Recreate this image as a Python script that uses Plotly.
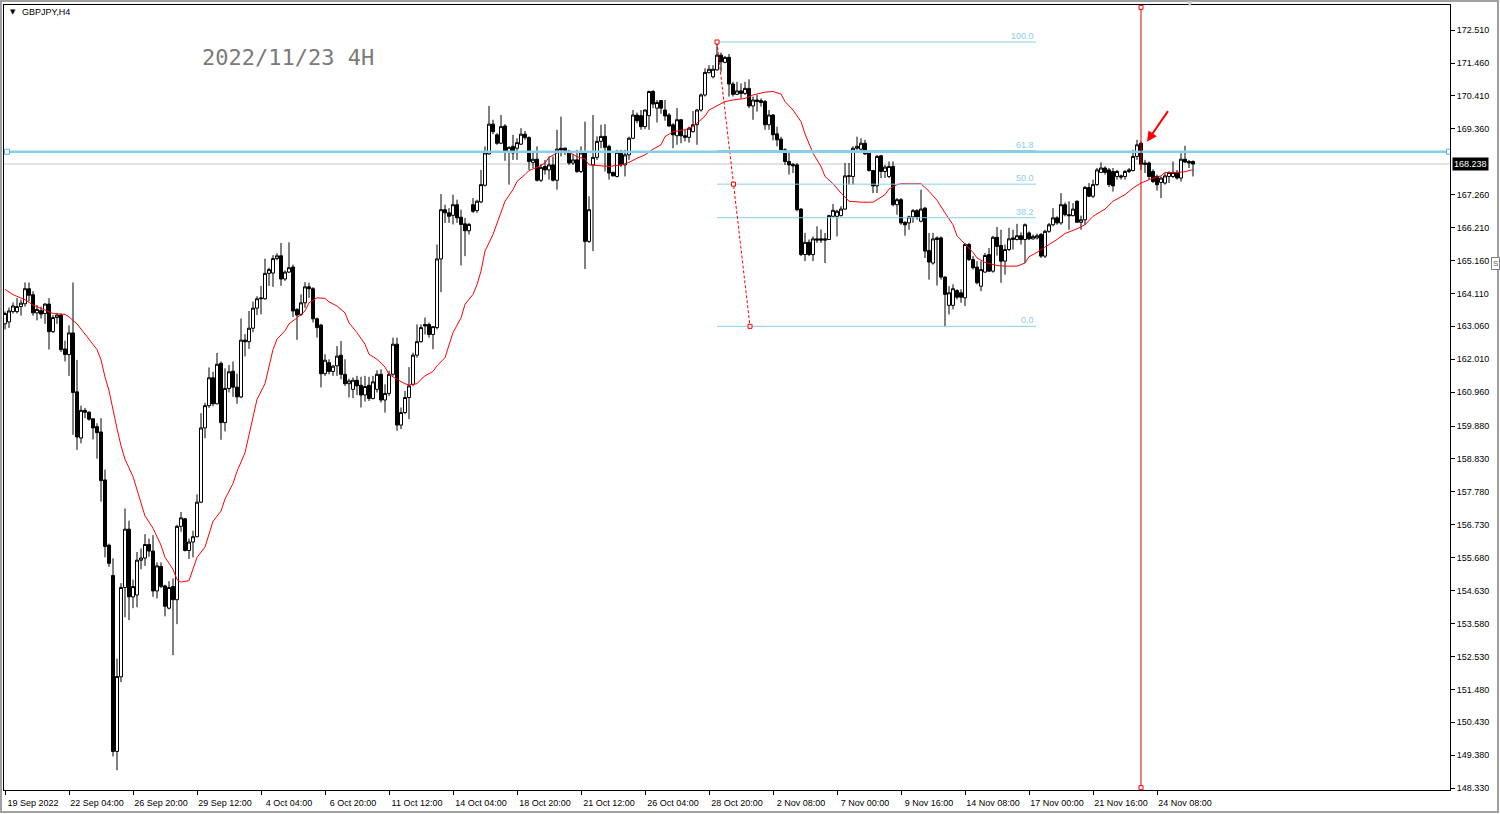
import pandas as pd
import plotly.graph_objects as go

# ---------------- data ----------------
# 4H bars (broker time) Mon-Fri, plus one Sunday bar after the DST switch
bar_times = [t for t in pd.date_range("2022-09-19 12:00", "2022-11-25 20:00", freq="4h") if t.dayofweek < 5]
bar_times.append(pd.Timestamp("2022-10-30 20:00"))
bar_times = sorted(bar_times)
dates = [t.strftime("%Y-%m-%d %H:%M") for t in bar_times]

opens = [
    163.14, 163.20, 163.53, 163.53, 163.69, 163.78, 164.26, 164.07, 163.49, 163.56,
    163.47, 163.77, 162.89, 163.34, 163.42, 162.34, 162.16, 162.85, 160.97, 159.50,
    160.38, 160.32, 160.11, 159.86, 159.69, 158.16, 156.08, 155.11, 149.50, 151.88,
    154.73, 156.59, 154.43, 154.49, 155.60, 155.67, 156.10, 155.89, 154.62, 155.40,
    154.78, 154.07, 154.76, 154.34, 156.68, 156.92, 155.91, 156.18, 156.35, 157.45,
    159.82, 160.53, 161.42, 160.59, 161.88, 159.99, 161.08, 161.63, 161.12, 160.81,
    162.62, 162.57, 163.00, 163.64, 163.94, 163.94, 164.75, 164.76, 165.22, 165.31,
    164.57, 164.79, 164.95, 163.60, 163.44, 163.81, 164.32, 164.26, 163.30, 163.10,
    161.55, 161.90, 161.62, 161.80, 162.14, 161.53, 161.23, 161.05, 161.34, 161.18,
    160.87, 161.18, 160.76, 161.05, 161.53, 160.71, 160.92, 161.53, 162.49, 159.91,
    160.31, 160.79, 161.21, 162.14, 162.57, 163.12, 163.12, 162.80, 163.02, 165.21,
    166.78, 166.68, 166.60, 166.94, 166.54, 166.33, 166.11, 166.94, 166.75, 167.03,
    167.56, 168.56, 169.51, 169.17, 168.90, 169.45, 168.61, 168.80, 168.74, 168.87,
    169.19, 169.08, 168.29, 168.39, 167.72, 168.16, 168.05, 168.21, 167.72, 168.74,
    168.74, 168.64, 168.27, 168.37, 168.00, 168.59, 165.77, 168.21, 168.45, 168.96,
    169.12, 168.80, 167.97, 167.84, 168.64, 168.21, 168.53, 169.06, 169.80, 169.78,
    169.43, 169.78, 170.55, 170.02, 170.26, 169.96, 169.80, 169.49, 169.14, 169.65,
    169.14, 169.09, 169.27, 169.49, 169.96, 170.44, 171.15, 171.02, 171.24, 171.71,
    171.48, 171.64, 170.79, 170.46, 170.57, 170.49, 170.65, 170.09, 170.28, 170.26,
    170.23, 169.49, 169.80, 169.20, 169.03, 168.69, 168.32, 168.23, 168.21, 166.80,
    165.35, 165.74, 165.35, 165.85, 165.85, 165.85, 165.83, 166.57, 166.57, 166.59,
    166.80, 167.84, 167.84, 168.74, 168.71, 168.90, 168.61, 168.03, 167.54, 168.50,
    168.00, 167.84, 168.16, 166.94, 167.10, 166.38, 166.36, 166.55, 166.75, 166.41,
    166.83, 165.48, 165.08, 165.88, 165.88, 164.63, 163.73, 163.73, 164.20, 164.13,
    163.97, 165.67, 165.19, 164.95, 164.34, 164.79, 165.35, 164.82, 165.90, 165.64,
    165.14, 165.51, 165.83, 165.83, 165.95, 165.83, 166.04, 165.85, 165.88, 165.99,
    165.30, 166.09, 166.30, 166.52, 166.36, 166.94, 166.62, 166.59, 167.05, 166.38,
    166.46, 167.49, 167.21, 167.58, 167.97, 168.11, 168.05, 168.00, 167.84, 167.86,
    167.84, 168.00, 168.03, 168.48, 168.90, 168.27, 168.27, 168.00, 167.84, 167.65,
    167.63, 167.84, 167.84, 167.97, 167.79, 168.39, 168.32, 168.32,
]
highs = [
    163.53, 163.66, 163.82, 163.96, 163.91, 164.46, 164.46, 164.18, 163.74, 163.69,
    163.80, 163.96, 163.42, 163.49, 163.47, 162.60, 163.09, 164.46, 161.99, 160.53,
    160.46, 160.35, 160.13, 159.97, 160.13, 158.49, 156.13, 155.66, 152.46, 154.87,
    157.25, 156.86, 154.98, 155.86, 155.97, 156.43, 156.29, 156.40, 155.53, 155.53,
    154.82, 154.93, 155.02, 156.73, 157.14, 156.95, 156.29, 156.54, 157.70, 160.29,
    160.62, 161.75, 161.61, 162.21, 161.94, 161.72, 161.83, 161.94, 161.55, 163.31,
    162.81, 163.55, 163.85, 164.02, 164.35, 165.22, 164.93, 165.33, 165.39, 165.72,
    164.84, 165.74, 165.03, 163.64, 164.08, 164.47, 164.45, 164.31, 163.34, 163.14,
    162.17, 162.01, 161.83, 162.43, 162.59, 162.01, 161.39, 161.43, 161.48, 161.45,
    161.48, 161.45, 161.48, 161.66, 161.69, 161.21, 161.64, 162.70, 162.70, 160.47,
    161.00, 161.76, 162.22, 163.12, 163.12, 163.34, 163.18, 163.07, 165.67, 167.28,
    166.94, 166.83, 167.26, 167.10, 166.78, 166.52, 166.36, 167.15, 167.10, 168.05,
    168.80, 170.09, 169.65, 169.22, 169.80, 169.51, 168.80, 169.17, 169.06, 169.38,
    169.29, 169.12, 168.64, 168.80, 168.23, 168.37, 168.48, 168.48, 169.33, 169.75,
    168.77, 168.69, 168.55, 168.69, 168.80, 169.59, 167.21, 169.80, 169.12, 169.49,
    169.51, 168.85, 168.00, 168.69, 168.69, 168.69, 169.11, 169.96, 169.88, 169.96,
    169.98, 170.58, 170.60, 170.28, 170.28, 170.28, 169.86, 169.54, 170.02, 169.67,
    169.33, 169.43, 169.93, 169.99, 170.49, 171.29, 171.39, 171.39, 172.13, 171.79,
    171.68, 171.75, 170.86, 170.86, 170.81, 170.86, 170.94, 170.39, 170.44, 170.33,
    170.28, 169.96, 169.83, 169.43, 169.11, 168.74, 168.61, 168.27, 168.27, 166.83,
    166.04, 165.83, 165.93, 166.25, 166.15, 166.04, 166.62, 166.96, 166.78, 166.89,
    168.27, 168.27, 168.80, 169.11, 169.06, 169.01, 168.64, 168.05, 168.53, 168.53,
    168.21, 168.32, 168.32, 167.15, 167.15, 166.41, 166.59, 166.80, 166.80, 167.42,
    166.87, 166.04, 166.04, 165.93, 165.93, 164.66, 164.34, 164.40, 164.24, 164.24,
    165.72, 165.72, 165.30, 165.14, 165.14, 165.40, 165.56, 165.95, 166.23, 166.14,
    165.67, 166.20, 166.14, 166.33, 166.06, 166.34, 166.09, 165.99, 166.02, 166.04,
    166.14, 166.36, 166.83, 166.57, 167.31, 167.01, 167.05, 166.99, 167.08, 166.59,
    167.54, 167.63, 167.74, 168.11, 168.29, 168.16, 168.11, 168.11, 168.05, 167.90,
    168.05, 168.11, 168.69, 169.01, 168.96, 168.37, 168.32, 168.07, 167.90, 167.84,
    167.95, 168.00, 168.32, 168.05, 168.58, 168.82, 168.37, 168.35,
]
lows = [
    162.96, 163.01, 163.47, 163.47, 163.40, 163.69, 163.85, 163.40, 163.25, 163.31,
    163.14, 162.32, 162.85, 163.14, 162.24, 161.94, 161.48, 159.60, 159.12, 159.33,
    160.13, 160.05, 159.45, 158.84, 157.47, 155.69, 155.39, 149.34, 148.90, 151.71,
    153.78, 153.69, 154.07, 154.10, 155.31, 155.42, 155.71, 154.43, 154.38, 154.71,
    153.81, 154.03, 152.57, 153.56, 156.51, 155.88, 155.64, 155.69, 156.33, 157.42,
    159.49, 160.46, 160.51, 160.57, 159.44, 159.71, 160.95, 160.81, 160.59, 160.77,
    162.10, 162.34, 162.87, 163.42, 163.44, 163.91, 164.35, 164.32, 165.17, 164.35,
    164.51, 164.76, 163.36, 162.63, 163.39, 163.65, 163.97, 163.18, 162.70, 161.11,
    161.48, 161.53, 161.48, 161.48, 161.37, 161.16, 160.79, 160.77, 160.87, 160.47,
    160.66, 160.68, 160.73, 160.95, 160.63, 160.31, 160.84, 161.48, 159.73, 159.78,
    160.26, 160.10, 161.15, 162.06, 162.54, 162.80, 162.70, 162.33, 162.96, 164.15,
    166.36, 166.36, 166.31, 166.36, 165.00, 165.30, 165.99, 166.68, 166.68, 166.99,
    167.52, 168.53, 169.19, 168.85, 168.87, 168.34, 167.58, 168.37, 168.37, 168.85,
    169.01, 168.05, 168.11, 167.68, 167.66, 167.90, 167.74, 167.68, 167.42, 168.48,
    168.53, 168.21, 168.21, 167.95, 167.95, 164.89, 165.72, 165.46, 168.37, 168.74,
    168.00, 167.74, 167.84, 167.81, 168.14, 167.84, 168.37, 169.03, 169.54, 169.33,
    169.35, 169.33, 170.02, 169.56, 169.84, 169.62, 169.43, 168.74, 168.85, 168.90,
    168.96, 168.92, 169.24, 168.85, 169.91, 170.39, 171.13, 170.97, 171.22, 171.18,
    171.45, 170.39, 170.39, 170.44, 170.33, 170.44, 170.02, 169.65, 169.91, 170.07,
    169.33, 169.33, 168.99, 168.80, 168.64, 168.21, 167.90, 167.95, 166.73, 165.30,
    165.14, 165.30, 165.14, 165.72, 165.72, 165.08, 165.81, 166.57, 165.93, 166.57,
    166.78, 167.58, 167.58, 168.69, 168.64, 168.53, 168.00, 167.31, 167.31, 167.79,
    167.79, 167.79, 166.89, 166.62, 166.30, 165.95, 166.14, 166.36, 166.46, 166.38,
    165.24, 164.55, 165.03, 164.36, 164.55, 163.06, 163.44, 163.60, 163.92, 163.81,
    163.71, 165.14, 164.87, 164.40, 164.18, 164.77, 164.79, 164.77, 165.32, 164.45,
    164.71, 165.46, 165.51, 165.80, 165.67, 165.08, 165.81, 165.83, 165.83, 165.24,
    165.24, 166.04, 166.25, 166.30, 166.30, 166.57, 166.14, 166.57, 166.36, 166.14,
    166.30, 167.18, 167.15, 167.54, 167.95, 167.90, 167.50, 167.36, 167.74, 167.74,
    167.74, 167.95, 168.00, 168.37, 168.05, 167.95, 167.74, 167.63, 167.39, 167.15,
    167.58, 167.63, 167.79, 167.74, 167.68, 168.27, 168.11, 167.84,
]
closes = [
    163.47, 163.55, 163.71, 163.69, 163.80, 164.26, 164.05, 163.49, 163.60, 163.45,
    163.77, 162.89, 163.34, 163.42, 162.32, 162.16, 162.85, 160.95, 159.53, 160.38,
    160.32, 160.10, 159.82, 159.67, 158.14, 156.04, 155.50, 149.50, 151.89, 154.73,
    156.59, 154.43, 154.76, 155.60, 155.67, 156.10, 155.89, 154.62, 155.42, 154.76,
    154.13, 154.73, 154.34, 156.68, 156.95, 155.91, 156.18, 156.35, 157.45, 159.82,
    160.53, 161.42, 160.59, 161.85, 159.99, 161.08, 161.61, 161.12, 160.81, 162.62,
    162.57, 163.00, 163.64, 163.94, 163.96, 164.75, 164.87, 165.22, 165.31, 164.57,
    164.79, 164.93, 163.55, 163.42, 163.81, 164.32, 164.26, 163.30, 163.02, 161.55,
    161.98, 161.62, 161.79, 162.11, 161.53, 161.23, 161.32, 161.34, 161.16, 160.87,
    161.14, 160.76, 161.29, 161.53, 160.71, 160.92, 161.53, 162.49, 159.91, 160.31,
    160.79, 161.16, 162.14, 162.57, 163.02, 163.07, 162.80, 163.05, 165.21, 166.78,
    166.68, 166.57, 166.94, 166.52, 166.31, 166.11, 166.31, 166.73, 167.05, 167.58,
    168.59, 169.51, 169.27, 168.90, 169.43, 168.61, 168.77, 168.59, 168.92, 169.19,
    169.08, 168.32, 168.39, 167.72, 168.13, 168.05, 168.21, 167.72, 168.71, 168.69,
    168.67, 168.27, 168.37, 168.00, 168.59, 165.77, 166.78, 168.45, 168.96, 169.12,
    168.77, 167.95, 167.86, 168.61, 168.21, 168.53, 169.06, 169.80, 169.62, 169.43,
    169.96, 170.55, 170.15, 170.20, 170.02, 169.77, 169.45, 169.17, 169.65, 169.14,
    169.09, 169.38, 169.49, 169.96, 170.44, 171.16, 171.26, 171.26, 171.71, 171.50,
    171.64, 170.79, 170.46, 170.57, 170.49, 170.65, 170.09, 170.28, 170.23, 170.20,
    169.49, 169.80, 169.17, 169.01, 168.69, 168.32, 168.21, 168.18, 166.78, 165.35,
    165.74, 165.35, 165.85, 165.81, 165.81, 165.81, 166.59, 166.76, 166.73, 166.80,
    167.86, 167.86, 168.74, 168.80, 168.90, 168.56, 168.03, 167.54, 168.48, 168.00,
    168.14, 168.16, 166.94, 167.10, 166.36, 166.30, 166.55, 166.75, 166.55, 166.80,
    165.46, 165.11, 165.85, 165.83, 164.63, 164.08, 164.13, 164.26, 163.99, 163.99,
    165.67, 165.19, 164.93, 164.45, 164.87, 165.32, 164.82, 165.90, 165.61, 165.14,
    165.51, 165.85, 165.88, 165.95, 165.83, 166.30, 165.85, 165.93, 165.95, 165.30,
    166.09, 166.30, 166.52, 166.36, 166.94, 166.62, 166.59, 166.80, 166.38, 166.46,
    167.49, 167.21, 167.58, 168.05, 168.11, 167.97, 167.58, 167.54, 168.00, 167.82,
    168.00, 168.05, 168.48, 168.85, 168.23, 168.23, 167.84, 167.68, 167.58, 167.79,
    167.86, 167.97, 167.97, 167.79, 168.39, 168.30, 168.27, 168.24,
]

# red moving average at these bar numbers
ma_bar = [0, 2, 5, 7, 10, 12, 15, 16, 18, 20, 23, 24, 25, 26, 27, 28, 29, 30, 32, 33,
          34, 35, 37, 38, 39, 40, 42, 43, 44, 46, 47, 48, 50, 51, 52, 54, 55, 57, 58, 60,
          61, 62, 63, 65, 66, 67, 68, 70, 71, 73, 75, 76, 78, 80, 81, 83, 85, 86, 88, 90,
          91, 93, 95, 96, 98, 100, 101, 103, 104, 105, 107, 108, 110, 111, 112, 114, 115, 117, 118, 119,
          120, 122, 123, 124, 125, 127, 128, 130, 131, 133, 135, 136, 138, 139, 140, 142, 143, 145, 146, 148,
          150, 151, 154, 156, 158, 160, 162, 164, 165, 167, 170, 172, 173, 175, 176, 178, 180, 182, 185, 187,
          190, 192, 194, 195, 197, 199, 200, 202, 204, 205, 207, 209, 211, 214, 217, 218, 220, 221, 223, 224,
          229, 231, 233, 235, 237, 238, 240, 242, 243, 245, 248, 250, 253, 255, 256, 258, 260, 263, 265, 268,
          270, 272, 275, 277, 280, 282, 284, 286, 289, 290, 293, 295, 296, 297]
ma_val = [164.24, 164.07, 163.91, 163.74, 163.58, 163.47, 163.44, 163.36, 163.14, 162.81,
          162.32, 161.99, 161.44, 161.01, 160.35, 159.80, 159.25, 158.82, 158.27, 157.83,
          157.39, 157.01, 156.62, 156.35, 156.08, 155.69, 155.31, 154.98, 154.90, 154.95,
          155.31, 155.69, 156.02, 156.40, 156.84, 157.17, 157.55, 158.05, 158.43, 159.03,
          159.58, 160.18, 160.73, 161.23, 161.83, 162.32, 162.65, 162.92, 163.14, 163.33,
          163.55, 163.81, 163.97, 163.95, 163.84, 163.71, 163.49, 163.17, 162.86, 162.49,
          162.17, 162.01, 161.76, 161.53, 161.37, 161.23, 161.19, 161.23, 161.37, 161.48,
          161.62, 161.80, 162.06, 162.43, 162.86, 163.33, 163.76, 164.08, 164.39, 164.82,
          165.46, 165.99, 166.36, 166.68, 167.05, 167.42, 167.68, 167.90, 168.03, 168.13,
          168.27, 168.45, 168.59, 168.66, 168.64, 168.55, 168.47, 168.40, 168.21, 168.19,
          168.19, 168.16, 168.21, 168.29, 168.42, 168.53, 168.71, 168.85, 169.11, 169.27,
          169.33, 169.43, 169.54, 169.77, 169.96, 170.09, 170.23, 170.28, 170.33, 170.44,
          170.53, 170.55, 170.47, 170.23, 169.96, 169.59, 169.20, 168.58, 168.16, 167.84,
          167.61, 167.31, 167.05, 167.02, 167.02, 167.10, 167.26, 167.44, 167.58, 167.61,
          167.61, 167.37, 167.08, 166.68, 166.30, 165.95, 165.70, 165.42, 165.24, 165.10,
          165.00, 164.98, 164.98, 165.08, 165.28, 165.42, 165.59, 165.83, 166.02, 166.17,
          166.30, 166.57, 166.80, 167.05, 167.26, 167.47, 167.63, 167.74, 167.86, 167.97,
          167.97, 167.99, 168.03, 168.05]

tick_dates = ["2022-09-19 12:00", "2022-09-22 04:00", "2022-09-26 20:00", "2022-09-29 12:00",
              "2022-10-04 04:00", "2022-10-06 20:00", "2022-10-11 12:00", "2022-10-14 04:00",
              "2022-10-18 20:00", "2022-10-21 12:00", "2022-10-26 04:00", "2022-10-28 20:00",
              "2022-11-02 08:00", "2022-11-07 00:00", "2022-11-09 16:00", "2022-11-14 08:00",
              "2022-11-17 00:00", "2022-11-21 16:00", "2022-11-24 08:00"]
tick_text = ["19 Sep 2022", "22 Sep 04:00", "26 Sep 20:00", "29 Sep 12:00", "4 Oct 04:00",
             "6 Oct 20:00", "11 Oct 12:00", "14 Oct 04:00", "18 Oct 20:00", "21 Oct 12:00",
             "26 Oct 04:00", "28 Oct 20:00", "2 Nov 08:00", "7 Nov 00:00", "9 Nov 16:00",
             "14 Nov 08:00", "17 Nov 00:00", "21 Nov 16:00", "24 Nov 08:00"]

y_ticks = [172.510, 171.460, 170.410, 169.360, 167.260, 166.210, 165.160, 164.110, 163.060,
           162.010, 160.960, 159.880, 158.830, 157.780, 156.730, 155.680, 154.630, 153.580,
           152.530, 151.480, 150.430, 149.380, 148.330]

fib_high = 172.13
fib_low = 163.06
fib_levels = [0.0, 38.2, 50.0, 61.8, 100.0]
fib_start_bar = 178
fib_end_bar = 186.25
fib_right_bar = 257.75
hline_price = 168.63
last_price = 168.238
vline_bar = 284

FIB_COLOR = "#87CEEB"
FONT = "Liberation Sans"

# ---------------- figure ----------------
fig = go.Figure()
fig.add_trace(go.Candlestick(
    x=dates, open=opens, high=highs, low=lows, close=closes,
    increasing=dict(line=dict(color="black", width=1), fillcolor="white"),
    decreasing=dict(line=dict(color="black", width=1), fillcolor="black"),
    whiskerwidth=0, hoverinfo="skip", showlegend=False,
))
fig.add_trace(go.Scatter(
    x=[dates[i] for i in ma_bar], y=ma_val, mode="lines",
    line=dict(color="#ff0000", width=1), hoverinfo="skip", showlegend=False,
))

shapes = []
# current price line
shapes.append(dict(type="line", xref="x", yref="y", x0=-0.25, x1=361.25, y0=last_price, y1=last_price,
                   line=dict(color="#c8c8c8", width=1), layer="below"))
# fibonacci levels
for lv in fib_levels:
    p = fib_low + lv / 100.0 * (fib_high - fib_low)
    shapes.append(dict(type="line", xref="x", yref="y", x0=fib_start_bar, x1=fib_right_bar, y0=p, y1=p,
                       line=dict(color=FIB_COLOR, width=1)))
# fib trend line (red dashed)
shapes.append(dict(type="line", xref="x", yref="y", x0=fib_start_bar, x1=fib_end_bar, y0=fib_high, y1=fib_low,
                   line=dict(color="#ff0000", width=1, dash="3px,2px")))
mid_bar = (fib_start_bar + fib_end_bar) / 2
mid_p = (fib_high + fib_low) / 2
for bx, py in [(fib_start_bar, fib_high), (mid_bar, mid_p), (fib_end_bar, fib_low)]:
    shapes.append(dict(type="rect", xref="x", yref="y", xsizemode="pixel", ysizemode="pixel",
                       xanchor=bx, yanchor=py, x0=-2, x1=2, y0=-2, y1=2,
                       line=dict(color="#ff0000", width=1), fillcolor="white"))
# horizontal blue line
shapes.append(dict(type="line", xref="x", yref="y", x0=0.5, x1=361.0, y0=hline_price, y1=hline_price,
                   line=dict(color=FIB_COLOR, width=2.5)))
for bx in [0.5, 361.0]:
    shapes.append(dict(type="rect", xref="x", yref="y", xsizemode="pixel", ysizemode="pixel",
                       xanchor=bx, yanchor=hline_price, x0=-2.5, x1=2.5, y0=-2.5, y1=2.5,
                       line=dict(color="#5aaee8", width=1), fillcolor="white"))
# vertical red line
shapes.append(dict(type="line", xref="x", yref="paper", x0=vline_bar, x1=vline_bar, y0=0, y1=1,
                   line=dict(color="#e00000", width=1)))
for yp in [0.997, 0.003]:
    shapes.append(dict(type="rect", xref="x", yref="paper", xsizemode="pixel", ysizemode="pixel",
                       xanchor=vline_bar, yanchor=yp, x0=-2, x1=2, y0=-2, y1=2,
                       line=dict(color="#ff0000", width=1), fillcolor="white"))
# window border
shapes.append(dict(type="rect", xref="paper", yref="paper", x0=-0.00207, x1=1.0332, y0=-0.028, y1=1.0051,
                   line=dict(color="#a0a0a0", width=2)))

annotations = []
for lv in fib_levels:
    p = fib_low + lv / 100.0 * (fib_high - fib_low)
    annotations.append(dict(x=fib_right_bar, y=p, xref="x", yref="y", text=f"{lv:.1f}", showarrow=False,
                            xanchor="right", yanchor="bottom", yshift=-1,
                            font=dict(family=FONT, size=9, color=FIB_COLOR)))
annotations += [
    dict(x=0.0028, y=0.9915, xref="paper", yref="paper", text="▼", showarrow=False, xanchor="left",
         yanchor="middle", font=dict(family="DejaVu Sans", size=7, color="black")),
    dict(x=0.011, y=0.9915, xref="paper", yref="paper", text="GBPJPY,H4", showarrow=False, xanchor="left",
         yanchor="middle", font=dict(family=FONT, size=9, color="black")),
    dict(x=0.1355, y=0.9325, xref="paper", yref="paper", text="2022/11/23 4H", showarrow=False,
         xanchor="left", yanchor="middle", font=dict(family="DejaVu Sans Mono", size=22, color="#7a7a7a")),
    dict(x=285.5, y=168.95, xref="x", yref="y", text="", showarrow=True, ax=22, ay=-32,
         arrowhead=2, arrowsize=1, arrowwidth=2, arrowcolor="#ff0000"),
    dict(x=1.0014, y=last_price, xref="paper", yref="y", text=f"{last_price:.3f}", showarrow=False,
         xanchor="left", yanchor="middle", bgcolor="black", borderpad=1,
         font=dict(family=FONT, size=9, color="white")),
    dict(x=1.0346, y=0.6713, xref="paper", yref="paper", text="S", showarrow=False, xanchor="right",
         yanchor="middle", bgcolor="white", bordercolor="#808080", borderwidth=1, borderpad=1,
         font=dict(family=FONT, size=8, color="#606060")),
    dict(x=0.8202, y=1.001, xref="paper", yref="paper", text="▼", showarrow=False, xanchor="center",
         yanchor="middle", font=dict(family="DejaVu Sans", size=7, color="#d0d0d0")),
]

fig.update_layout(
    width=1500, height=814,
    margin=dict(l=4, r=50, t=5, b=24, autoexpand=False),
    paper_bgcolor="white", plot_bgcolor="white",
    showlegend=False, boxgap=0.25, boxgroupgap=0,
    shapes=shapes, annotations=annotations,
    xaxis=dict(type="category", range=[-0.25, 361.25], rangeslider=dict(visible=False),
               showgrid=False, zeroline=False, showline=True, linecolor="black", linewidth=1, mirror=True,
               tickmode="array", tickvals=tick_dates, ticktext=tick_text, ticks="outside", ticklen=4,
               tickcolor="black", ticklabelshift=28, tickangle=0, automargin=False,
               tickfont=dict(family=FONT, size=9, color="black")),
    yaxis=dict(side="right", range=[148.27, 173.31], showgrid=False, zeroline=False, showline=True,
               linecolor="black", linewidth=1, mirror=True, tickmode="array", tickvals=y_ticks,
               ticktext=[f"{v:.3f}" for v in y_ticks], ticks="outside", ticklen=4, tickcolor="black",
               automargin=False, tickfont=dict(family=FONT, size=9, color="black")),
)

fig.write_html("out.html", config={"displayModeBar": False},
               post_script="document.body.style.margin='0';document.body.style.overflow='hidden';")
